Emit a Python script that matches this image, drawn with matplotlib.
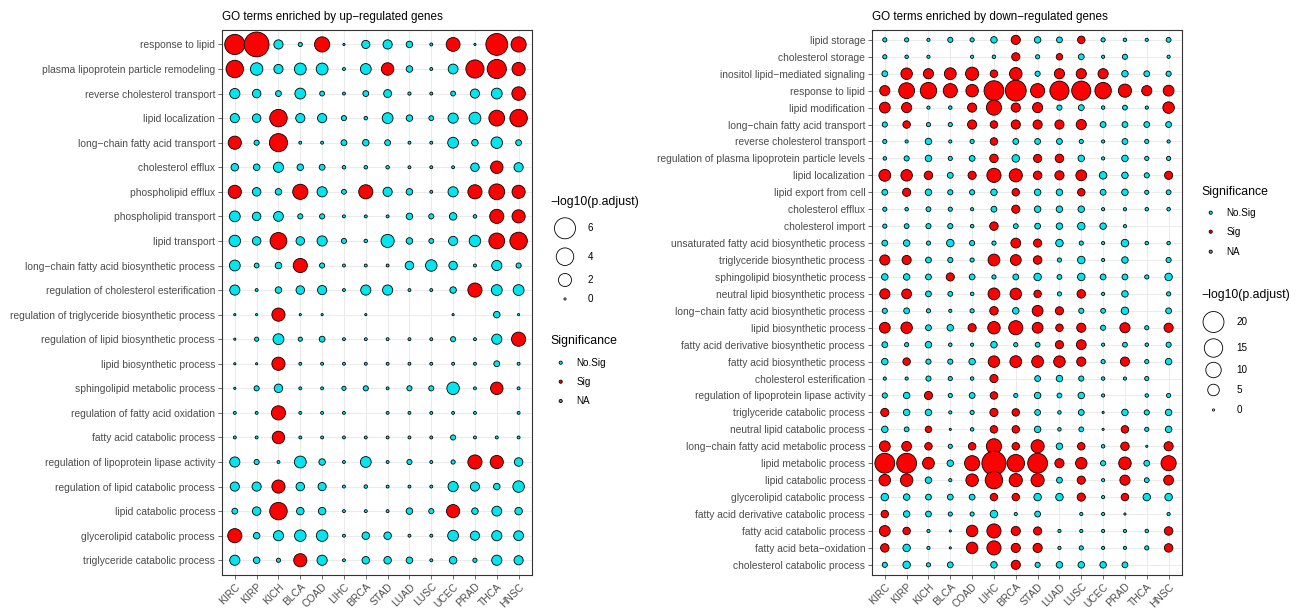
import numpy as np
import matplotlib
matplotlib.use('Agg')
import matplotlib.pyplot as plt

plt.rcParams['font.family'] = ['Liberation Sans', 'DejaVu Sans']

nan = np.nan

cancers = ['KIRC', 'KIRP', 'KICH', 'BLCA', 'COAD', 'LIHC', 'BRCA',
           'STAD', 'LUAD', 'LUSC', 'UCEC', 'PRAD', 'THCA', 'HNSC']

# GO terms enriched by up-regulated genes, -log10(p.adjust) per cancer
up_terms = [
    'response to lipid',
    'plasma lipoprotein particle remodeling',
    'reverse cholesterol transport',
    'lipid localization',
    'long\u2212chain fatty acid transport',
    'cholesterol efflux',
    'phospholipid efflux',
    'phospholipid transport',
    'lipid transport',
    'long\u2212chain fatty acid biosynthetic process',
    'regulation of cholesterol esterification',
    'regulation of triglyceride biosynthetic process',
    'regulation of lipid biosynthetic process',
    'lipid biosynthetic process',
    'sphingolipid metabolic process',
    'regulation of fatty acid oxidation',
    'fatty acid catabolic process',
    'regulation of lipoprotein lipase activity',
    'regulation of lipid catabolic process',
    'lipid catabolic process',
    'glycerolipid catabolic process',
    'triglyceride catabolic process',
]
up_logp = [
    [5.46, 8.67, 0.83, 0.07, 2.85, 0.0, 0.61, 0.83, 0.32, 0.01, 2.3, 0.0, 6.52, 2.85],
    [3.96, 1.8, 0.83, 1.58, 1.58, 0.01, 1.27, 1.8, 0.32, 0.01, 0.99, 4.32, 4.87, 2.04],
    [1.08, 0.68, 0.23, 1.27, 0.12, 0.01, 0.23, 0.55, 0.02, 0.01, 0.12, 0.83, 1.27, 2.17],
    [0.83, 0.68, 3.96, 0.83, 0.83, 0.15, 0.03, 1.27, 0.32, 0.12, 1.08, 1.58, 3.15, 3.96],
    [2.04, 0.15, 4.32, 0.01, 0.01, 0.23, 0.32, 0.23, 0.01, 0.01, 1.27, 0.32, 1.47, 0.23],
    [0.48, 0.32, 1.08, 0.32, 0.23, 0.03, 0.03, 0.03, 0.01, 0.01, 0.01, 0.68, 1.8, 0.83],
    [2.04, 0.68, 0.32, 2.85, 1.08, 0.12, 2.43, 0.83, 0.32, 0.01, 1.08, 2.43, 3.15, 2.04],
    [1.27, 0.68, 0.99, 0.15, 0.15, 0.01, 0.01, 0.01, 0.32, 0.15, 0.48, 0.03, 2.43, 2.04],
    [1.47, 0.68, 3.63, 0.68, 1.08, 0.15, 0.03, 2.04, 0.32, 0.12, 0.83, 1.47, 3.15, 3.96],
    [1.27, 0.12, 0.32, 2.43, 0.15, 0.01, 0.01, 0.01, 0.68, 1.47, 0.68, 0.01, 1.08, 0.15],
    [1.08, 0.01, 0.32, 0.68, 0.83, 0.01, 1.08, 1.08, 0.01, 0.01, 0.32, 2.43, 1.27, 1.27],
    [0.0, 0.0, 2.04, 0.0, 0.0, nan, 0.0, nan, nan, nan, 0.0, nan, 0.32, 0.0],
    [0.0, 0.07, 1.27, 0.07, 0.23, 0.01, 0.01, 0.01, 0.01, 0.01, 0.15, 0.01, 1.08, 2.43],
    [0.0, 0.0, 2.04, 0.01, 0.01, 0.01, 0.01, 0.01, 0.01, 0.01, 0.01, 0.01, 0.23, 0.01],
    [0.0, 0.15, 0.68, 0.01, 0.01, 0.07, 0.15, 0.01, 0.15, 0.15, 1.8, 0.01, 1.8, 0.01],
    [0.01, 0.01, 2.43, 0.01, 0.01, 0.01, nan, 0.01, 0.01, 0.01, 0.01, 0.01, nan, 0.01],
    [0.01, 0.01, 1.8, 0.01, 0.01, 0.01, 0.01, 0.01, 0.01, 0.01, 0.15, 0.01, 0.01, 0.01],
    [1.08, 0.15, 0.01, 1.58, 0.32, 0.01, 1.27, 0.01, 0.15, 0.01, 0.07, 2.43, 2.04, 0.68],
    [0.83, 0.83, 2.04, 0.68, 0.61, 0.01, 0.03, 0.01, 0.01, 0.01, 1.08, 0.83, 0.32, 1.47],
    [0.23, 0.68, 3.96, 0.48, 0.48, 0.01, 0.01, 0.01, 0.32, 0.15, 2.04, 0.32, 0.99, 0.48],
    [2.43, 0.32, 1.08, 1.47, 1.47, 0.01, 0.48, 0.48, 0.01, 0.01, 1.27, 0.83, 1.08, 0.99],
    [1.08, 0.32, 0.07, 2.04, 1.08, 0.01, 0.48, 0.48, 0.32, 0.01, 0.48, 0.07, 1.08, 0.83],
]
# S = Sig, N = No.Sig
up_sig = [
    'SSNNSNNNNNSNSS',
    'SNNNNNNSNNNSSS',
    'NNNNNNNNNNNNNS',
    'NNSNNNNNNNNNSS',
    'SNSNNNNNNNNNNN',
    'NNNNNNNNNNNNSN',
    'SNNSNNSNNNNSSS',
    'NNNNNNNNNNNNSS',
    'NNSNNNNNNNNNSS',
    'NNNSNNNNNNNNNN',
    'NNNNNNNNNNNSNN',
    'NNSNNNNNNNNNNN',
    'NNNNNNNNNNNNNS',
    'NNSNNNNNNNNNNN',
    'NNNNNNNNNNNNSN',
    'NNSNNNNNNNNNNN',
    'NNSNNNNNNNNNNN',
    'NNNNNNNNNNNSSN',
    'NNSNNNNNNNNNNN',
    'NNSNNNNNNNSNNN',
    'SNNNNNNNNNNNNN',
    'NNNSNNNNNNNNNN',
]

# GO terms enriched by down-regulated genes
down_terms = [
    'lipid storage',
    'cholesterol storage',
    'inositol lipid\u2212mediated signaling',
    'response to lipid',
    'lipid modification',
    'long\u2212chain fatty acid transport',
    'reverse cholesterol transport',
    'regulation of plasma lipoprotein particle levels',
    'lipid localization',
    'lipid export from cell',
    'cholesterol efflux',
    'cholesterol import',
    'unsaturated fatty acid biosynthetic process',
    'triglyceride biosynthetic process',
    'sphingolipid biosynthetic process',
    'neutral lipid biosynthetic process',
    'long\u2212chain fatty acid biosynthetic process',
    'lipid biosynthetic process',
    'fatty acid derivative biosynthetic process',
    'fatty acid biosynthetic process',
    'cholesterol esterification',
    'regulation of lipoprotein lipase activity',
    'triglyceride catabolic process',
    'neutral lipid catabolic process',
    'long\u2212chain fatty acid metabolic process',
    'lipid metabolic process',
    'lipid catabolic process',
    'glycerolipid catabolic process',
    'fatty acid derivative catabolic process',
    'fatty acid catabolic process',
    'fatty acid beta\u2212oxidation',
    'cholesterol catabolic process',
]
down_logp = [
    [0.23, 0.23, 0.06, 0.51, 0.23, 1.06, 2.78, 1.06, 0.76, 1.61, 0.23, 0.1, 0.06, 0.4],
    [0.23, 0.1, 0.06, nan, 0.06, 0.1, 2.04, 0.23, 1.06, 0.76, 0.06, 0.51, nan, 0.06],
    [0.76, 4.94, 3.63, 5.3, 6.86, 1.61, 6.05, 0.51, 3.63, 3.63, 3.63, 1.06, 0.76, 0.51],
    [3.63, 10.6, 11.6, 8.16, 6.05, 17.7, 19.8, 8.16, 16.4, 16.4, 11.6, 6.86, 3.63, 4.26],
    [4.26, 3.63, 0.06, 0.1, 2.78, 9.58, 2.78, 3.63, 0.51, 0.76, 0.1, 0.4, 0.06, 4.94],
    [0.51, 1.61, 0.23, 0.23, 2.78, 1.61, 2.78, 2.78, 2.78, 3.63, 0.76, 0.76, 0.76, 0.76],
    [0.23, 0.06, 1.06, 0.06, 0.23, 1.61, 0.76, 0.76, 0.76, 0.23, 0.06, 0.76, 0.23, 0.06],
    [0.1, 0.51, 1.06, 0.23, 0.76, 2.27, 1.61, 2.04, 2.27, 1.06, 0.06, 1.06, 0.23, 0.23],
    [5.3, 4.94, 2.27, 0.76, 2.04, 8.16, 6.86, 2.27, 2.78, 4.26, 1.61, 1.06, 0.51, 2.04],
    [0.76, 2.04, 1.06, 0.51, 0.51, 1.06, 1.61, 1.06, 1.06, 1.61, 0.76, 1.06, 0.23, 0.4],
    [0.23, 0.1, 0.4, 0.23, 0.06, 0.76, 2.04, 1.06, 1.06, 1.06, 0.06, 0.06, 0.1, 0.1],
    [0.23, 0.4, 0.51, 0.51, 0.1, 2.27, 0.4, 0.76, 1.06, 1.61, 1.06, 0.06, nan, nan],
    [0.76, 1.06, 0.23, 1.61, 0.51, 0.23, 3.33, 2.04, 1.61, 0.23, 0.06, 1.61, 0.1, 0.1],
    [3.63, 2.78, 0.76, 0.51, 0.23, 5.3, 4.26, 2.27, 0.23, 1.61, 0.06, 1.06, nan, 0.51],
    [1.06, 1.06, 0.76, 2.04, 0.76, 0.23, 0.76, 1.61, 0.4, 1.61, 0.76, 0.76, 0.23, 1.61],
    [3.63, 3.33, 0.76, 0.4, 0.1, 5.3, 4.94, 1.61, 0.23, 2.27, 0.06, 1.06, nan, 0.23],
    [0.51, 0.76, 0.23, 0.06, 0.23, 2.27, 1.06, 4.26, 2.04, 0.51, 0.4, 1.61, nan, 0.76],
    [4.26, 4.94, 0.76, 1.06, 2.04, 6.05, 8.16, 4.26, 1.61, 2.78, 0.51, 3.63, 0.23, 2.78],
    [0.76, 0.23, 1.06, 0.1, 0.06, 1.06, 0.23, 0.4, 2.04, 3.33, 0.06, 0.4, 0.1, 0.51],
    [1.06, 1.61, 0.51, 0.51, 1.06, 4.94, 5.3, 5.3, 4.94, 2.78, 0.23, 2.78, 0.23, 1.06],
    [0.06, 0.06, 0.51, 0.23, 0.1, 2.04, nan, 0.76, 1.06, 0.51, 0.1, 0.06, 0.23, nan],
    [0.51, 1.06, 2.04, 0.23, 0.76, 1.61, 0.23, 1.06, 0.4, 1.06, 0.06, nan, 0.1, 0.23],
    [2.04, 1.06, 1.06, 0.06, 0.23, 2.04, 1.61, 0.76, 0.1, 0.76, 0.0, 1.06, 0.51, 1.06],
    [1.06, 0.4, 1.06, 0.0, 0.1, 1.61, 1.61, 1.06, 0.1, 0.4, 0.0, 1.61, 0.23, 1.06],
    [4.26, 3.33, 1.61, 0.23, 1.61, 9.58, 1.61, 6.86, 1.06, 1.61, 0.1, 2.27, 0.0, 2.78],
    [17.7, 17.7, 5.3, 1.06, 9.58, 27.4, 13.3, 17.7, 2.78, 4.94, 0.51, 6.05, 0.76, 9.58],
    [4.94, 6.05, 1.06, 0.06, 6.05, 13.3, 6.86, 6.86, 0.76, 2.04, 0.06, 3.63, 0.4, 3.33],
    [1.61, 1.06, 0.76, 0.76, 0.76, 1.61, 1.61, 1.61, 1.61, 2.04, 0.06, 1.61, 1.61, 1.61],
    [1.61, 1.06, 0.76, 0.23, 0.23, 1.61, 0.06, 0.76, nan, 0.06, 0.06, 0.0, nan, 0.06],
    [4.26, 1.61, 0.06, 0.0, 4.94, 8.16, 2.78, 2.04, 0.06, 0.06, 0.06, 0.06, 0.1, 2.27],
    [2.27, 1.61, 0.06, 0.0, 4.94, 8.16, 2.78, 2.78, 0.06, 0.23, 0.06, 0.06, 0.23, 2.27],
    [0.51, 1.61, 0.23, 0.76, nan, 1.06, 2.78, 0.51, 1.06, 1.06, 1.06, 0.76, nan, nan],
]
down_sig = [
    'NNNNNNSNNSNNNN',
    'NNNNNNSNSNNNNN',
    'NSSSSSSNSSSNNN',
    'SSSSSSSSSSSSSS',
    'SSNNSSSSNNNNNS',
    'NSNNSSSSSSNNNN',
    'NNNNNSNNNNNNNN',
    'NNNNNSNSSNNNNN',
    'SSSNSSSSSSNNNS',
    'NSNNNNSNNSNNNN',
    'NNNNNNSNNNNNNN',
    'NNNNNSNNNNNNNN',
    'NNNNNNSSNNNNNN',
    'SSNNNSSSNNNNNN',
    'NNNSNNNNNNNNNN',
    'SSNNNSSSNSNNNN',
    'NNNNNSNSSNNNNN',
    'SSNNSSSSSSNSNS',
    'NNNNNNNNSSNNNN',
    'NSNNNSSSSSNSNN',
    'NNNNNSNNNNNNNN',
    'NNSNNSNNNNNNNN',
    'SNNNNSSNNNNNNN',
    'NNSNNSSNNNNSNN',
    'SSSNSSSSNSNSNS',
    'SSSNSSSSSSNSNS',
    'SSNNSSSSNSNSNS',
    'NNNNNSSNNSNSNN',
    'SNNNNNNNNNNNNN',
    'SSNNSSSSNNNNNS',
    'SNNNSSSSNNNNNS',
    'NNNNNNSNNNNNNN',
]

up_breaks = [6, 4, 2, 0]
down_breaks = [20, 15, 10, 5, 0]

W, H, DPI = 1304, 608, 100
EDGE = 0.6
SIG_COLORS = {'S': '#FF0000', 'N': '#00E5EE', 'NA': '#7F7F7F'}
TEXT_GREY = '#4D4D4D'
K_UP, K_DOWN = 7.7, 4.2


def diameter_px(v, k):
    # bubble diameter grows with sqrt of the value (area scale)
    return 3.0 + k * np.sqrt(v)


def marker_area(v, k):
    d_pt = diameter_px(np.asarray(v, float), k) * 72.0 / DPI
    return (d_pt - EDGE) ** 2


def bubble_panel(ax, terms, logp, sig, k, title):
    vals = np.array(logp, float)
    n = len(terms)
    yy, xx = np.meshgrid(np.arange(n), np.arange(len(cancers)), indexing='ij')
    cols = np.array([[SIG_COLORS[c] for c in row] for row in sig])
    keep = ~np.isnan(vals)
    ax.scatter(xx[keep], yy[keep], s=marker_area(vals[keep], k), c=cols[keep],
               edgecolors='black', linewidths=EDGE, zorder=3)
    ax.set_xlim(-0.6, len(cancers) - 0.4)
    ax.set_ylim(n - 0.4, -0.6)
    ax.set_xticks(range(len(cancers)))
    ax.set_xticklabels(cancers, rotation=45, ha='right', va='top',
                       rotation_mode='anchor', fontsize=7.4, color=TEXT_GREY)
    ax.set_yticks(range(n))
    ax.set_yticklabels(terms, fontsize=7.4, color=TEXT_GREY)
    ax.tick_params(length=2.8, width=0.5, color='#333333', pad=1.9)
    ax.grid(True, color='#EBEBEB', linewidth=0.7, zorder=0)
    ax.set_axisbelow(True)
    for sp in ax.spines.values():
        sp.set_color('#333333')
        sp.set_linewidth(0.8)
    ax.set_title(title, loc='left', fontsize=8.4, pad=7)


fig = plt.figure(figsize=(W / DPI, H / DPI), dpi=DPI)
ax_up = fig.add_axes([221.7 / W, 1 - 575 / H, 310 / W, 545.3 / H])
ax_down = fig.add_axes([871.7 / W, 1 - 575 / H, 310 / W, 545.3 / H])

bubble_panel(ax_up, up_terms, up_logp, up_sig, K_UP,
             'GO terms enriched by up\u2212regulated genes')
bubble_panel(ax_down, down_terms, down_logp, down_sig, K_DOWN,
             'GO terms enriched by down\u2212regulated genes')

# legends drawn on a transparent overlay in pixel units
leg = fig.add_axes([0, 0, 1, 1])
leg.set_xlim(0, W)
leg.set_ylim(H, 0)
leg.axis('off')


def size_legend(x_title, y_title, x_key, key_ys, breaks, k):
    leg.text(x_title, y_title, '\u2212log10(p.adjust)', fontsize=8.8, va='center')
    leg.scatter([x_key] * len(breaks), key_ys, s=marker_area(breaks, k),
                facecolors='none', edgecolors='black', linewidths=EDGE)
    for b, y in zip(breaks, key_ys):
        leg.text(x_key + 23, y, str(b), fontsize=7.1, va='center')


def sig_legend(x_title, y_title, x_key, key_ys):
    leg.text(x_title, y_title, 'Significance', fontsize=8.8, va='center')
    names = ['No.Sig', 'Sig', 'NA']
    cols = [SIG_COLORS['N'], SIG_COLORS['S'], SIG_COLORS['NA']]
    leg.scatter([x_key] * 3, key_ys, s=(4 * 72.0 / DPI - EDGE) ** 2, c=cols,
                edgecolors='black', linewidths=EDGE)
    for name, y in zip(names, key_ys):
        leg.text(x_key + 15.5, y, name, fontsize=7.1, va='center')


size_legend(550, 201.7, 565, [228.3, 256.7, 280, 299], up_breaks, K_UP)
sig_legend(550, 341, 560.7, [362.7, 381.7, 401])
sig_legend(1201, 191.7, 1210.7, [212.7, 231.7, 251.7])
size_legend(1201, 295, 1213.5, [322, 348, 370, 390, 410], down_breaks, K_DOWN)

fig.savefig('out.png', dpi=DPI)
